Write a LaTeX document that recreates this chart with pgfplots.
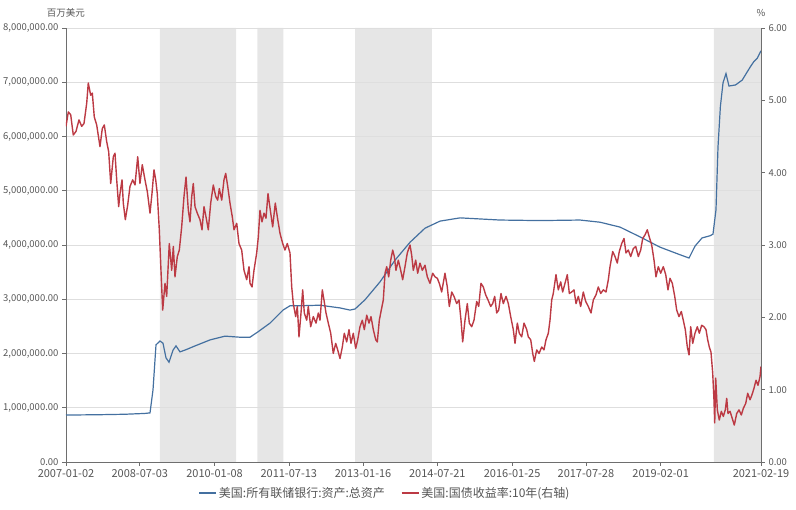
\documentclass[border=0pt]{standalone}
\usepackage{fontspec}
\setmainfont{Noto Sans CJK SC}
\usepackage{pgfplots}
\usepackage{pgfplotstable}
\pgfplotsset{compat=1.18}
\definecolor{fedblue}{RGB}{68,112,160}
\definecolor{yieldred}{RGB}{188,58,68}
\definecolor{shadegray}{RGB}{230,230,230}
\definecolor{gridc}{RGB}{222,222,222}
\definecolor{axisc}{RGB}{110,110,110}
\definecolor{labc}{RGB}{85,85,85}

\pgfplotstableread{
year assets
2007.000 866000
2007.300 868000
2007.700 872000
2008.200 880000
2008.600 895000
2008.708 905000
2008.769 1330000
2008.830 2160000
2008.911 2230000
2008.972 2190000
2009.033 1920000
2009.094 1840000
2009.175 2060000
2009.236 2140000
2009.318 2030000
2009.440 2070000
2009.623 2140000
2009.928 2250000
2010.233 2320000
2010.538 2300000
2010.741 2300000
2010.904 2400000
2011.148 2560000
2011.412 2800000
2011.554 2880000
2011.757 2880000
2012.164 2890000
2012.571 2840000
2012.774 2800000
2012.876 2820000
2013.079 2990000
2013.384 3320000
2013.689 3720000
2013.994 4050000
2014.299 4310000
2014.604 4440000
2015.011 4500000
2015.417 4480000
2015.824 4460000
2016.637 4450000
2017.450 4460000
2017.857 4420000
2018.263 4330000
2018.670 4150000
2019.077 3960000
2019.484 3820000
2019.667 3760000
2019.789 3980000
2019.931 4130000
2020.094 4170000
2020.154 4200000
2020.215 4650000
2020.256 5810000
2020.304 6550000
2020.358 6990000
2020.418 7160000
2020.479 6930000
2020.612 6950000
2020.748 7040000
2020.849 7190000
2020.917 7290000
2020.984 7380000
2021.052 7440000
2021.130 7580000
}\assets

\pgfplotstableread{
year yield
2007.000 4.64
2007.047 4.84
2007.096 4.80
2007.148 4.52
2007.203 4.57
2007.264 4.73
2007.319 4.64
2007.366 4.68
2007.421 4.96
2007.453 5.24
2007.502 5.07
2007.535 5.10
2007.575 4.77
2007.624 4.66
2007.691 4.36
2007.738 4.61
2007.779 4.66
2007.827 4.43
2007.868 4.29
2007.909 3.85
2007.962 4.22
2007.996 4.27
2008.031 3.90
2008.071 3.53
2008.098 3.71
2008.139 3.90
2008.165 3.58
2008.206 3.35
2008.254 3.55
2008.301 3.81
2008.356 3.90
2008.403 3.83
2008.458 4.22
2008.504 3.85
2008.551 4.11
2008.606 3.90
2008.653 3.74
2008.708 3.44
2008.748 3.71
2008.789 4.04
2008.824 3.90
2008.856 3.71
2008.897 3.21
2008.931 2.65
2008.966 2.10
2009.013 2.47
2009.047 2.29
2009.100 3.02
2009.149 2.65
2009.182 2.98
2009.216 2.56
2009.263 2.84
2009.304 2.93
2009.352 3.25
2009.399 3.67
2009.440 3.94
2009.487 3.48
2009.521 3.32
2009.556 3.67
2009.588 3.85
2009.623 3.53
2009.669 3.44
2009.724 3.35
2009.765 3.21
2009.806 3.53
2009.846 3.39
2009.893 3.21
2009.942 3.58
2009.995 3.83
2010.044 3.67
2010.084 3.62
2010.117 3.78
2010.166 3.62
2010.212 3.90
2010.247 3.99
2010.288 3.81
2010.334 3.58
2010.381 3.39
2010.416 3.21
2010.471 3.30
2010.517 3.02
2010.572 2.93
2010.619 2.65
2010.674 2.52
2010.721 2.70
2010.741 2.47
2010.782 2.42
2010.822 2.65
2010.877 2.89
2010.910 3.11
2010.944 3.48
2010.985 3.32
2011.026 3.44
2011.066 3.37
2011.107 3.71
2011.148 3.51
2011.202 3.25
2011.255 3.58
2011.296 3.39
2011.351 3.16
2011.406 3.02
2011.452 2.93
2011.499 3.02
2011.554 2.89
2011.589 2.42
2011.621 2.19
2011.670 2.01
2011.703 2.15
2011.737 1.73
2011.778 2.06
2011.812 2.38
2011.845 2.06
2011.894 1.96
2011.926 2.15
2011.975 1.87
2012.028 2.01
2012.083 1.92
2012.130 2.06
2012.164 1.96
2012.211 2.38
2012.245 2.24
2012.286 2.06
2012.333 1.92
2012.382 1.78
2012.434 1.50
2012.483 1.64
2012.524 1.55
2012.571 1.43
2012.618 1.59
2012.658 1.78
2012.707 1.66
2012.754 1.83
2012.794 1.64
2012.841 1.78
2012.890 1.57
2012.931 1.69
2012.977 1.87
2013.024 1.96
2013.065 1.83
2013.114 2.03
2013.160 1.92
2013.201 2.01
2013.248 1.83
2013.297 1.69
2013.329 1.66
2013.370 1.96
2013.410 2.10
2013.451 2.24
2013.486 2.61
2013.520 2.70
2013.561 2.56
2013.602 2.79
2013.642 2.93
2013.675 2.84
2013.709 2.65
2013.756 2.79
2013.805 2.65
2013.845 2.52
2013.892 2.70
2013.939 2.89
2013.994 3.00
2014.028 2.86
2014.061 2.65
2014.110 2.79
2014.150 2.61
2014.197 2.75
2014.244 2.65
2014.299 2.72
2014.346 2.56
2014.400 2.47
2014.455 2.61
2014.502 2.56
2014.549 2.54
2014.590 2.47
2014.638 2.35
2014.705 2.61
2014.752 2.42
2014.793 2.15
2014.842 2.35
2014.888 2.29
2014.943 2.19
2014.990 2.24
2015.031 1.96
2015.065 1.66
2015.112 1.96
2015.159 2.19
2015.200 1.92
2015.248 1.87
2015.295 1.96
2015.350 2.22
2015.391 2.15
2015.437 2.47
2015.484 2.42
2015.533 2.31
2015.580 2.24
2015.635 2.15
2015.675 2.19
2015.716 2.29
2015.757 2.06
2015.797 2.10
2015.844 2.33
2015.891 2.19
2015.946 2.29
2015.993 2.19
2016.041 2.01
2016.094 1.83
2016.129 1.64
2016.176 1.92
2016.216 1.78
2016.265 1.73
2016.312 1.92
2016.367 1.83
2016.399 1.73
2016.448 1.69
2016.489 1.50
2016.521 1.39
2016.570 1.55
2016.617 1.50
2016.672 1.59
2016.718 1.55
2016.759 1.69
2016.806 1.78
2016.840 1.96
2016.875 2.24
2016.907 2.33
2016.962 2.59
2017.009 2.38
2017.058 2.49
2017.098 2.35
2017.145 2.47
2017.192 2.59
2017.233 2.33
2017.281 2.35
2017.328 2.38
2017.369 2.19
2017.416 2.29
2017.464 2.15
2017.517 2.35
2017.566 2.22
2017.619 2.15
2017.674 2.06
2017.721 2.24
2017.775 2.31
2017.822 2.42
2017.871 2.33
2017.924 2.38
2017.979 2.35
2018.026 2.52
2018.060 2.70
2018.115 2.91
2018.162 2.84
2018.208 2.75
2018.249 2.91
2018.298 3.02
2018.345 3.09
2018.385 2.89
2018.432 2.93
2018.481 2.84
2018.534 2.95
2018.583 2.98
2018.636 2.84
2018.684 2.93
2018.725 3.09
2018.772 3.14
2018.818 3.21
2018.859 3.11
2018.908 3.00
2018.955 2.79
2018.995 2.56
2019.042 2.70
2019.091 2.61
2019.144 2.70
2019.193 2.59
2019.239 2.38
2019.280 2.54
2019.327 2.47
2019.376 2.29
2019.416 2.10
2019.463 2.01
2019.510 2.08
2019.550 1.96
2019.591 1.83
2019.632 1.59
2019.667 1.48
2019.701 1.87
2019.742 1.64
2019.788 1.78
2019.835 1.87
2019.876 1.78
2019.924 1.89
2019.971 1.87
2020.012 1.83
2020.046 1.69
2020.079 1.59
2020.113 1.52
2020.148 1.23
2020.174 0.86
2020.189 0.54
2020.209 1.16
2020.242 0.72
2020.282 0.58
2020.323 0.70
2020.364 0.63
2020.404 0.72
2020.433 0.88
2020.459 0.67
2020.500 0.70
2020.547 0.60
2020.587 0.51
2020.636 0.67
2020.683 0.72
2020.730 0.65
2020.770 0.74
2020.819 0.81
2020.860 0.95
2020.907 0.86
2020.947 0.93
2020.988 1.02
2021.029 1.13
2021.069 1.06
2021.110 1.18
2021.130 1.32
}\yields

\begin{document}
\begin{tikzpicture}
\pgfplotsset{
  base/.style={
    scale only axis, width=695pt, height=434pt,
    xmin=2007, xmax=2021.13,
    axis line style={-, axisc, line width=0.7pt},
    tick style={axisc, line width=0.6pt},
    major tick length=4pt, tick align=outside,
    /pgf/number format/assume math mode=true,
    clip mode=individual,
  }
}
\begin{axis}[base, set layers,
  ymin=0, ymax=8000000,
  axis x line*=bottom, axis y line*=left,
  ytick={0,1000000,2000000,3000000,4000000,5000000,6000000,7000000,8000000},
  scaled y ticks=false,
  ymajorgrids, grid style={gridc, line width=0.6pt},
  yticklabel style={font=\fontsize{9.5}{11}\selectfont, color=labc,
    /pgf/number format/.cd, fixed, fixed zerofill, precision=2, 1000 sep={,}},
  xtick={2007,2008.50,2010.02,2011.53,2013.04,2014.55,2016.07,2017.57,2019.09,2021.13},
  xticklabels={2007-01-02,2008-07-03,2010-01-08,2011-07-13,2013-01-16,2014-07-21,2016-01-25,2017-07-28,2019-02-01,2021-02-19},
  xticklabel style={font=\fontsize{11}{13}\selectfont, color=labc},
]
\addplot[fill=shadegray, draw=none, on layer=axis background, forget plot] coordinates {(2008.91,0) (2008.91,8000000) (2010.46,8000000) (2010.46,0)} \closedcycle;
\addplot[fill=shadegray, draw=none, on layer=axis background, forget plot] coordinates {(2010.89,0) (2010.89,8000000) (2011.42,8000000) (2011.42,0)} \closedcycle;
\addplot[fill=shadegray, draw=none, on layer=axis background, forget plot] coordinates {(2012.88,0) (2012.88,8000000) (2014.44,8000000) (2014.44,0)} \closedcycle;
\addplot[fill=shadegray, draw=none, on layer=axis background, forget plot] coordinates {(2020.17,0) (2020.17,8000000) (2021.13,8000000) (2021.13,0)} \closedcycle;
\addplot[fedblue, line width=1.2pt, no marks] table[x=year, y=assets] {\assets};
\node[font=\fontsize{9.5}{11}\selectfont, color=labc] at (rel axis cs:0,1) [yshift=15pt] {百万美元};
\end{axis}
\begin{axis}[base,
  ymin=0, ymax=6,
  axis y line*=right, axis x line=none,
  ytick={0,1,2,3,4,5,6},
  yticklabel style={font=\fontsize{9.5}{11}\selectfont, color=labc,
    /pgf/number format/.cd, fixed, fixed zerofill, precision=2},
  legend style={at={(0.459,-0.071)}, anchor=center, draw=none, fill=none,
    legend columns=2, font=\fontsize{12}{14}\selectfont, text=labc,
    /tikz/every even column/.append style={column sep=14pt}},
]
\addlegendimage{fedblue, line width=1.4pt}
\addlegendentry{美国:所有联储银行:资产:总资产}
\addplot[yieldred, line width=1.4pt, no marks, line join=round] table[x=year, y=yield] {\yields};
\addlegendentry{美国:国债收益率:10年(右轴)}
\node[font=\fontsize{9.5}{11}\selectfont, color=labc] at (rel axis cs:1,1) [yshift=15pt] {\%};
\end{axis}
\pgfresetboundingbox
\path[use as bounding box] (-66pt,-48pt) rectangle (730pt,462pt);
\end{tikzpicture}
\end{document}
